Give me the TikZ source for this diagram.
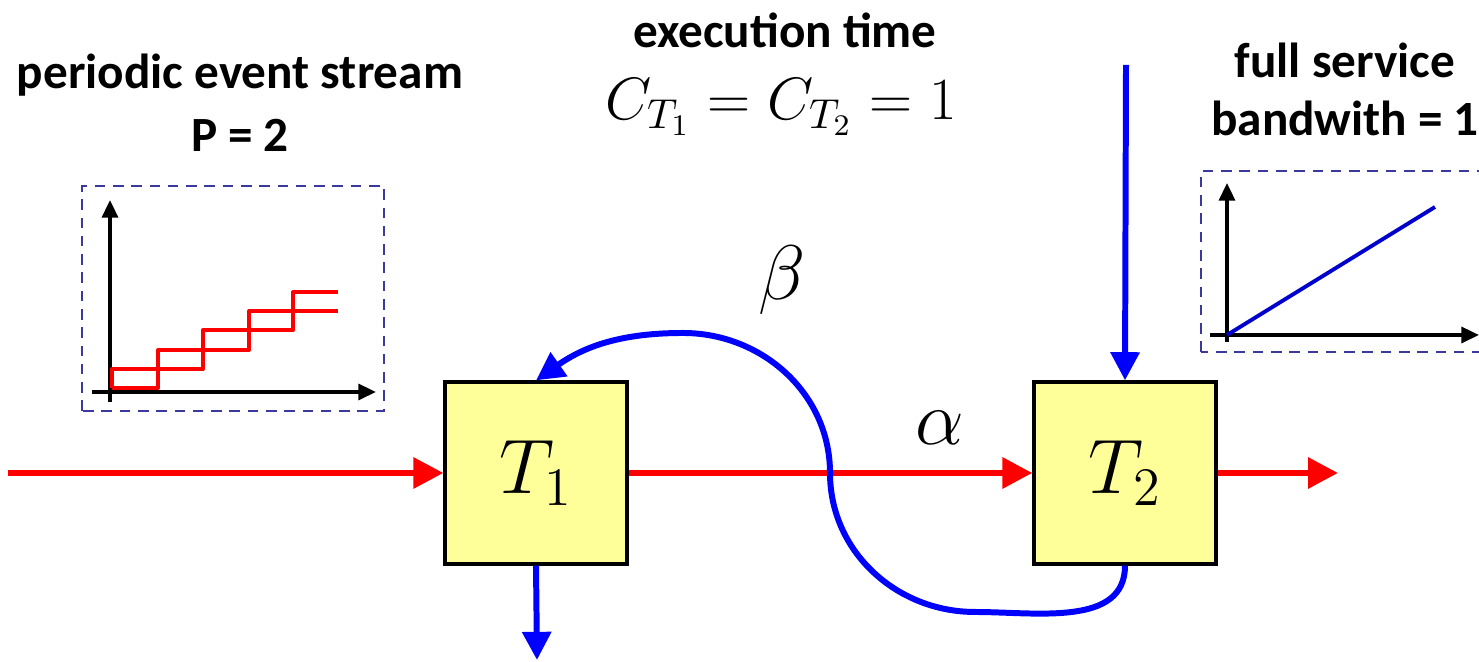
\RequirePackage{fix-cm}
\documentclass[tikz,border=0pt]{standalone}
\usepackage{fontspec}
\setmainfont{Carlito}
\usepackage{tikz}
\usetikzlibrary{arrows.meta,positioning,calc}

\definecolor{boxYellow}{HTML}{FFFF99}
\definecolor{frameBlue}{HTML}{3A3A9E}

\begin{document}
\begin{tikzpicture}[
    x=0.01cm, y=0.01cm,
    taskNode/.style={
        rectangle, draw=black, line width=0.9pt, fill=boxYellow,
        minimum width=1.82cm, minimum height=1.82cm, inner sep=0pt,
        font=\fontsize{22}{26}\selectfont
    },
    eventArrow/.style={
        -{Triangle[length=8.5pt, width=8.5pt]}, line width=1.8pt, draw=red
    },
    serviceArrow/.style={
        -{Triangle[length=8pt, width=8pt]}, line width=1.7pt, draw=blue
    },
    axisArrow/.style={
        -{Triangle[length=5pt, width=4.5pt]}, line width=1pt, draw=black
    },
    curveFrame/.style={
        draw=frameBlue, line width=0.6pt, dash pattern=on 3pt off 2.2pt
    },
    stairLine/.style={draw=red, line width=1.1pt, line join=round},
    headText/.style={
        font=\bfseries\fontsize{14}{17}\selectfont, align=center, inner sep=0pt
    },
    greekText/.style={font=\fontsize{22}{26}\selectfont, inner sep=0pt}
]
\useasboundingbox (0,0) rectangle (1479,662);

% Nodes
\node[taskNode] (t1) at (536,189) {$T_1$};
\node[taskNode] (t2) at (1125,189) {$T_2$};

\coordinate (streamIn) at (8,189);
\coordinate (streamOut) at (1338,189);
\coordinate (serviceIn) at (1126,597);
\coordinate (serviceOut) at (537,2);

% Labels
\node[headText] (periodTxt) at (240,587) {periodic event stream};
\node[headText] (periodVal) at (240,527) {P = 2};
\node[headText] (execTxt) at (785,632) {execution time};
\node[inner sep=0pt, font=\fontsize{17}{20}\selectfont] (execVal) at (781,555) {$C_{T_1} = C_{T_2} = 1$};
\node[headText] (serviceTxt) at (1345,602) {full service};
\node[headText] (serviceVal) at (1345,544) {bandwith = 1};
\node[greekText] (betaLbl) at (782,382) {$\beta$};
\node[greekText] (alphaLbl) at (940,234) {$\alpha$};

% Arrival curve box
\draw[curveFrame] (82,251) rectangle (384,476);
\draw[axisArrow] (110,260) -- (110,462);
\draw[axisArrow] (92,270) -- (376,270);
\draw[stairLine] (112,274) -- (158,274) -- (158,312) -- (249,312) -- (249,351) -- (338,351);
\draw[stairLine] (112,274) -- (112,293) -- (203,293) -- (203,332) -- (293,332) -- (293,370) -- (338,370);

% Service curve box
\draw[curveFrame] (1201,310) rectangle (1490,491);
\draw[axisArrow] (1227,320) -- (1227,479);
\draw[axisArrow] (1210,327) -- (1479,327);
\draw[draw=blue!80!black, line width=1.1pt] (1227,327) -- (1435,455);

% Transitions
\draw[eventArrow] (streamIn) -- (t1.west);
\draw[eventArrow] (t1.east) -- (t2.west);
\draw[eventArrow] (t2.east) -- (streamOut);
\draw[serviceArrow] (serviceIn) -- (t2.north);
\draw[serviceArrow] (t1.south) -- (serviceOut);
\draw[serviceArrow] (t2.south) to[out=-90, in=0] (975,50)
    to[out=180, in=-90] (830,189)
    to[out=90, in=0] (683,329)
    to[out=180, in=35] (t1.north);

\end{tikzpicture}
\end{document}
